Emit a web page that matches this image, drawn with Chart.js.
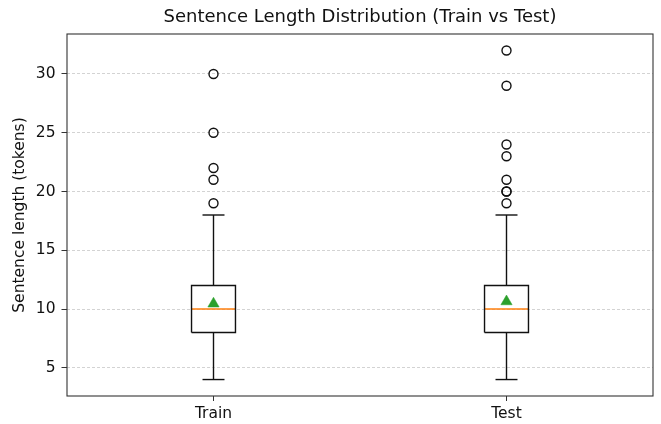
<!DOCTYPE html>
<html>
    <head>
        <title>Sentence Length Distribution</title>
        <script src="https://cdn.jsdelivr.net/npm/chart.js@4.4.1/dist/chart.umd.min.js"></script>
        <style>
            body { margin: 0; background: #fff; }
            #wrap { width: 661px; height: 424px; }
        </style>
    </head>

    <body>
        <div id="wrap">
            <canvas id="boxChart" width="661" height="424"></canvas>
        </div>
    </body>
    <script>
        // box statistics
        const groups = ['Train', 'Test'];
        const positions = [1, 2];
        const q1 = [8, 8];
        const q3 = [12, 12];
        const medians = [10, 10];
        const whiskerLow = [4, 4];
        const whiskerHigh = [18, 18];
        const means = [10.45, 10.64];
        const outliers = [
            [19, 21, 22, 25, 30],
            [19, 20, 20, 21, 23, 24, 29, 32]
        ];
        const yTicks = [5, 10, 15, 20, 25, 30];

        const boxHalf = 0.075;
        const capHalf = 0.0375;
        const font = "'DejaVu Sans', sans-serif";

        function seg(points, color, width) {
            return {
                type: 'line', data: points, showLine: true, fill: false,
                borderColor: color, borderWidth: width, pointRadius: 0,
                borderJoinStyle: 'miter', borderCapStyle: 'butt', order: 2
            };
        }

        var datasets = [];
        for (var i = 0; i < groups.length; i++) {
            var p = positions[i];
            datasets.push(seg([
                {x: p - boxHalf, y: q1[i]}, {x: p + boxHalf, y: q1[i]},
                {x: p + boxHalf, y: q3[i]}, {x: p - boxHalf, y: q3[i]},
                {x: p - boxHalf, y: q1[i]}
            ], '#111', 1.4));
            datasets.push(seg([{x: p, y: whiskerLow[i]}, {x: p, y: q1[i]}], '#111', 1.4));
            datasets.push(seg([{x: p, y: q3[i]}, {x: p, y: whiskerHigh[i]}], '#111', 1.4));
            datasets.push(seg([{x: p - capHalf, y: whiskerLow[i]}, {x: p + capHalf, y: whiskerLow[i]}], '#111', 1.4));
            datasets.push(seg([{x: p - capHalf, y: whiskerHigh[i]}, {x: p + capHalf, y: whiskerHigh[i]}], '#111', 1.4));
            datasets.push(seg([{x: p - boxHalf, y: medians[i]}, {x: p + boxHalf, y: medians[i]}], '#ff7f0e', 1.6));
            datasets.push({
                type: 'scatter', data: [{x: p, y: means[i]}],
                pointStyle: 'triangle', pointRadius: 6.5,
                backgroundColor: '#2ca02c', borderColor: '#2ca02c', borderWidth: 0.5, order: 1
            });
            datasets.push({
                type: 'scatter', data: outliers[i].map(function (v) { return {x: p, y: v}; }),
                pointStyle: 'circle', pointRadius: 4.5,
                backgroundColor: 'rgba(0,0,0,0)', borderColor: '#111', borderWidth: 1.4, order: 1
            });
        }

        // axes frame on all four sides + title centred over the axes, as matplotlib does
        const framePlugin = {
            id: 'frame',
            afterLayout(chart) {
                if (chart.titleBlock) {
                    chart.titleBlock.left = chart.chartArea.left;
                    chart.titleBlock.right = chart.chartArea.right;
                }
            },
            afterDatasetsDraw(chart) {
                const a = chart.chartArea;
                const ctx = chart.ctx;
                ctx.save();
                ctx.strokeStyle = '#333';
                ctx.lineWidth = 1.1;
                ctx.strokeRect(a.left, a.top, a.right - a.left, a.bottom - a.top);
                ctx.restore();
            }
        };

        var ctx = document.getElementById('boxChart').getContext('2d');
        var boxChart = new Chart(ctx, {
            type: 'scatter',
            data: { datasets: datasets },
            plugins: [framePlugin],
            options: {
                responsive: false,
                animation: false,
                layout: { padding: { left: 0, right: 8, top: 0, bottom: 0 } },
                plugins: {
                    legend: { display: false },
                    tooltip: { enabled: false },
                    title: {
                        display: true,
                        text: 'Sentence Length Distribution (Train vs Test)',
                        color: '#111',
                        font: { family: font, size: 18, weight: 'normal' },
                        padding: { top: 7, bottom: 5.4 }
                    }
                },
                scales: {
                    x: {
                        type: 'linear', min: 0.5, max: 2.5,
                        afterBuildTicks: function (scale) { scale.ticks = positions.map(function (v) { return {value: v}; }); },
                        afterFit: function (scale) { scale.height = 28; },
                        border: { display: false },
                        grid: { drawOnChartArea: false, tickLength: 5, tickColor: '#333', tickWidth: 1 },
                        ticks: {
                            color: '#111', padding: 4, maxRotation: 0,
                            font: { family: font, size: 15.5 },
                            callback: function (v) { return groups[positions.indexOf(v)]; }
                        }
                    },
                    y: {
                        type: 'linear', min: 2.6, max: 33.4,
                        afterBuildTicks: function (scale) { scale.ticks = yTicks.map(function (v) { return {value: v}; }); },
                        afterFit: function (scale) { scale.width = 67; },
                        border: { display: false, dash: [3, 2] },
                        grid: {
                            color: 'rgba(0,0,0,0.22)', lineWidth: 0.8,
                            tickLength: 5.5, tickColor: '#333', tickWidth: 1, tickBorderDash: []
                        },
                        ticks: { color: '#111', padding: 6, font: { family: font, size: 15.5 } },
                        title: {
                            display: true, text: 'Sentence length (tokens)', color: '#111',
                            font: { family: font, size: 15.5 },
                            padding: { top: 10.5, bottom: 0 }
                        }
                    }
                }
            }
        });
    </script>
</html>
